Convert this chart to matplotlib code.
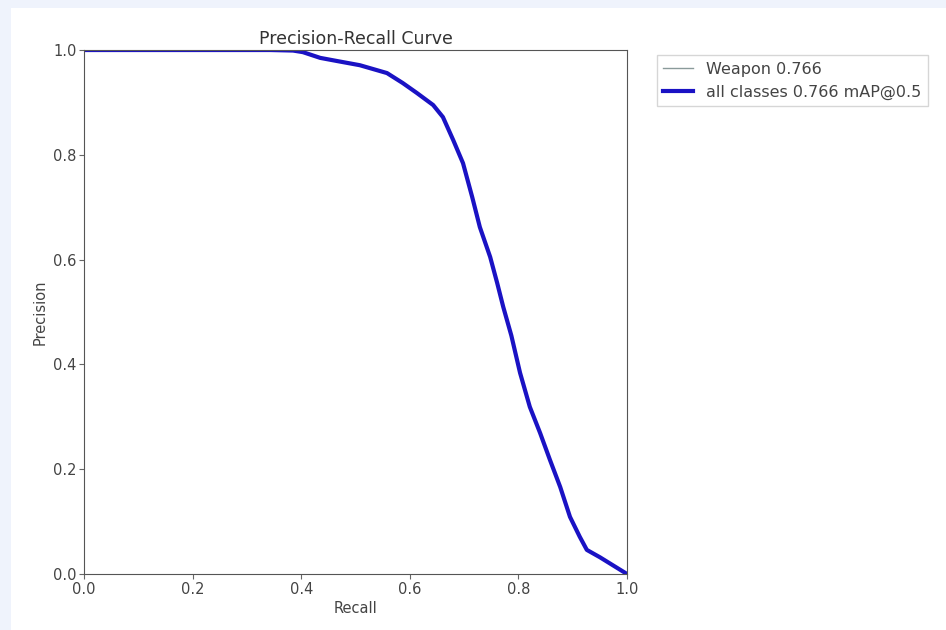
import matplotlib
matplotlib.use('Agg')
import matplotlib.pyplot as plt
from matplotlib.patches import Rectangle

# PR curve points (recall, precision) for the single class
recall = [0.0, 0.343, 0.385, 0.403, 0.435, 0.466, 0.508, 0.558, 0.587, 0.613, 0.643,
          0.661, 0.680, 0.698, 0.715, 0.729, 0.748, 0.761, 0.772, 0.787, 0.803,
          0.821, 0.840, 0.858, 0.877, 0.895, 0.913, 0.926, 0.95, 1.0]
precision = [1.0, 1.0, 0.999, 0.996, 0.985, 0.979, 0.971, 0.956, 0.937, 0.918, 0.895,
             0.872, 0.828, 0.784, 0.719, 0.662, 0.605, 0.555, 0.51, 0.455, 0.384,
             0.319, 0.269, 0.218, 0.166, 0.109, 0.071, 0.046, 0.032, 0.0]
class_name = 'Weapon'
class_ap = 0.766
map50 = 0.766

fig = plt.figure(figsize=(9.46, 6.3), dpi=100, facecolor='#eff3fc')
# white page area
fig.patches.append(Rectangle((11 / 946, 0), 1, (630 - 8) / 630, transform=fig.transFigure,
                             facecolor='white', edgecolor='none', zorder=-10))
ax = fig.add_axes([0.0888, 0.0889, 0.574, 0.8317])

ax.plot(recall, precision, linewidth=1, color='#8a9a9a', label=f'{class_name} {class_ap:.3f}')
ax.plot(recall, precision, linewidth=3, color='#1a12c4', label=f'all classes {map50:.3f} mAP@0.5')

ax.set_xlabel('Recall', fontsize=10.5, color='#444444', labelpad=3)
ax.set_ylabel('Precision', fontsize=10.5, color='#444444')
ax.set_xlim(0, 1)
ax.set_ylim(0, 1)
ax.tick_params(labelsize=10.5, labelcolor='#444444', color='#666666', pad=2)
for s in ax.spines.values():
    s.set_color('#555555')
ax.set_title('Precision-Recall Curve', fontsize=12.5, color='#333333', pad=4)
ax.legend(bbox_to_anchor=(1.04, 1.005), loc='upper left', fontsize=11.5, fancybox=False,
          labelcolor='#444444', handlelength=1.9)

fig.savefig('out.png', dpi=100, facecolor=fig.get_facecolor())
